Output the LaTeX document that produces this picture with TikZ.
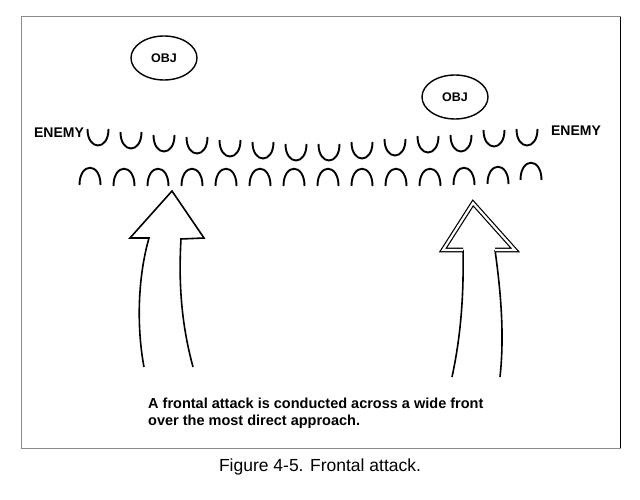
\documentclass[tikz,border=0pt]{standalone}
\usepackage{fontspec}
\setmainfont{Liberation Sans}
\usetikzlibrary{shapes.geometric, positioning}
\tikzstyle{objective} = [ellipse, draw=black, line width=1.4pt, minimum width=66pt, minimum height=44pt, font=\fontsize{12.5}{14}\selectfont\bfseries]
\tikzstyle{enemy_label} = [font=\fontsize{14}{16}\selectfont\bfseries]
\tikzstyle{position} = [line width=1.9pt]
\tikzstyle{attack} = [line width=1.6pt, line join=miter]
\tikzstyle{frame} = [draw=black!45, line width=1pt]
\tikzstyle{remark} = [anchor=north west, align=left, inner sep=0pt, font=\fontsize{14.5}{16.5}\selectfont\bfseries]

\begin{document}
\begin{tikzpicture}[x=1pt, y=-1pt]
        \useasboundingbox (0,0) rectangle (640,500);
        \draw [frame] (21,17) rectangle (620,448);
        \draw [line width=1pt] (620,17) -- (620,448);

        \node (obj_left) [objective] at (164,58) {OBJ};
        \node (obj_right) [objective] at (455,97) {OBJ};
        \node (enemy_left) [enemy_label] at (59,133) {ENEMY};
        \node (enemy_right) [enemy_label] at (576,131) {ENEMY};

        % enemy line
        \foreach \x/\y in {98/129, 131/132, 164/135, 197/137, 230/140, 263/142, 296/144,
                           329/144, 362/142, 395/139, 428/136, 461/135, 494/130, 527/129}
            \draw [position] ({\x-10.5},\y) .. controls ({\x-10.5},\y+22) and ({\x+10.5},\y+22) .. ({\x+10.5},\y);

        % friendly line
        \foreach \x/\y in {90/185, 124/186, 158/186, 192/186, 226/186, 260/186, 294/186,
                           328/186, 362/186, 396/186, 430/186, 464/185, 498/184, 531/180}
            \draw [position] ({\x-10.5},\y) .. controls ({\x-10.5},\y-23) and ({\x+10.5},\y-23) .. ({\x+10.5},\y);

        % main attacks
        \draw [attack] (144,367) .. controls (137,330) and (137,280) .. (149,238) -- (130,238) -- (172,191)
              -- (204,238) -- (181,239) .. controls (178,290) and (183,330) .. (193,367);
        \draw [attack] (452,377) .. controls (460,340) and (464,300) .. (463,250);
        \draw [attack] (495,250) .. controls (502,300) and (504,340) .. (500,377);
        \draw [attack, double, double distance=2.2pt, line width=1.2pt] (463,250) -- (443,250) -- (473,203)
              -- (515,250) -- (495,250);

        \node (remark) [remark] at (148,398) {A frontal attack is conducted across a wide front\\over the most direct approach.};
        \node (caption) [font=\fontsize{17.5}{20}\selectfont] at (320,467) {Figure 4-5. Frontal attack.};
\end{tikzpicture}
\end{document}
